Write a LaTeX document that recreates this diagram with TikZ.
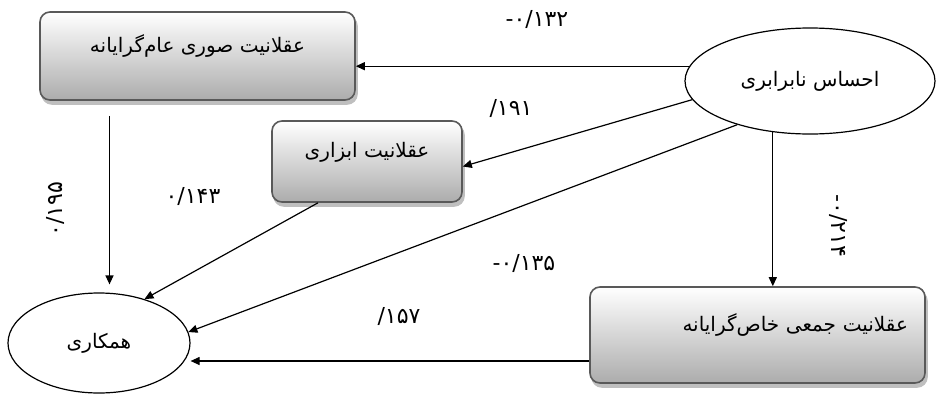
\documentclass[tikz,border=0pt]{standalone}
\usepackage{fontspec}
\newfontfamily\arabicfont[Script=Arabic]{DejaVu Sans}
\newfontfamily\numfont{DejaVu Sans}
\TeXXeTstate=1
\usetikzlibrary{arrows.meta,shapes.geometric}

\begin{document}
\begin{tikzpicture}[
        x=1pt, y=-1pt,
        >={Triangle[length=9pt,width=8pt]},
        box/.style={rectangle, rounded corners=10pt, draw=gray!70!black, line width=1.6pt,
            preaction={fill=gray!50, draw=gray!50, transform canvas={xshift=2pt, yshift=-4pt}},
            top color=white, bottom color=gray!65,
            font=\arabicfont\fontsize{20}{24}\selectfont, text depth=24pt},
        oval/.style={ellipse, draw, line width=1.2pt, inner sep=0pt, font=\arabicfont\fontsize{20}{24}\selectfont},
        coef/.style={font=\numfont\fontsize{22}{24}\selectfont},
        link/.style={->, line width=1.2pt}
    ]
        \useasboundingbox (0,0) rectangle (936,418);

        % Variables
        \node[box, minimum width=315pt, minimum height=88pt] (formal) at (197.5,56) {\beginR عقلانیت  صوری عام‌گرایانه\endR};
        \node[box, minimum width=190pt, minimum height=81pt] (instr) at (367,161.5) {\beginR عقلانیت ابزاری\endR};
        \node[box, minimum width=335pt, minimum height=96pt, text width=301pt, inner xsep=17pt, align=right] (collect) at (757.5,335) {\beginR عقلانیت جمعی خاص‌گرایانه\endR};
        \node[oval, minimum width=250pt, minimum height=106pt] (ineq) at (810,81) {\beginR احساس نابرابری\endR};
        \node[oval, minimum width=182pt, minimum height=100pt] (coop) at (99,343) {\beginR همکاری\endR};

        % Paths
        \draw[link] (ineq.173) -- (ineq.173 -| formal.east);
        \draw[link] (ineq.189) -- ([yshift=-5pt]instr.east);
        \draw[link] (ineq.211) -- (coop.7);
        \draw[link] (ineq.234) -- (ineq.234 |- collect.north);
        \draw[link, shorten <=15pt, shorten >=8pt] ([xshift=-88pt]formal.south) -- ([xshift=-88pt]formal.south |- coop.north);
        \draw[link] ([xshift=-49pt]instr.south) -- (coop.44);
        \draw[link] ([yshift=-26pt]collect.west) -- ([yshift=-26pt]collect.west -| coop.east);

        % Coefficients
        \node[coef] (c132) at (537,19) {-۰/۱۳۲};
        \node[coef] (c191) at (511,108) {/۱۹۱};
        \node[coef] (c143) at (193,196) {۰/۱۴۳};
        \node[coef, rotate=90] (c195) at (56,209) {۰/۱۹۵};
        \node[coef] (c135) at (524,263) {-۰/۱۳۵};
        \node[coef] (c157) at (399,316) {/۱۵۷};
        \node[coef, rotate=-90] (c214) at (838,226) {-۰/۲۱۴};

    \end{tikzpicture}
\end{document}
